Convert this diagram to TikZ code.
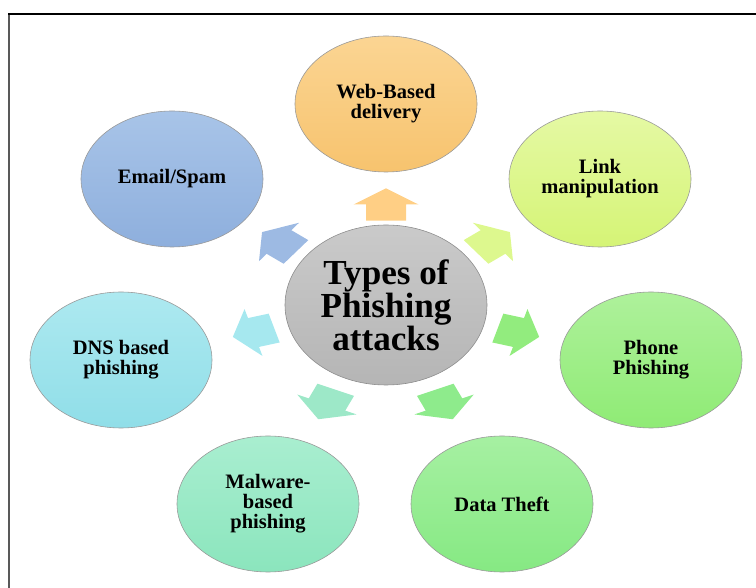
\documentclass[tikz,border=0pt]{standalone}
\usepackage{fontspec}
\setmainfont{Liberation Serif}
\usetikzlibrary{shapes.geometric,calc}

\definecolor{hubtop}{HTML}{CACACA}
\definecolor{hubbot}{HTML}{B5B5B5}
\definecolor{webtop}{HTML}{FBD593}
\definecolor{webbot}{HTML}{F7C36E}
\definecolor{emailtop}{HTML}{A8C4E8}
\definecolor{emailbot}{HTML}{8EAFDD}
\definecolor{linktop}{HTML}{E5F9A4}
\definecolor{linkbot}{HTML}{D5F476}
\definecolor{dnstop}{HTML}{ADE9F0}
\definecolor{dnsbot}{HTML}{90DEE8}
\definecolor{phonetop}{HTML}{AEF19B}
\definecolor{phonebot}{HTML}{8FEB75}
\definecolor{maltop}{HTML}{A9EED0}
\definecolor{malbot}{HTML}{8BE5BD}
\definecolor{datatop}{HTML}{A6F0A2}
\definecolor{databot}{HTML}{86E983}
\definecolor{webarrow}{HTML}{FFCF85}
\definecolor{emailarrow}{HTML}{9DBAE3}
\definecolor{linkarrow}{HTML}{DDF88E}
\definecolor{dnsarrow}{HTML}{A6E8EF}
\definecolor{phonearrow}{HTML}{92EC7E}
\definecolor{malarrow}{HTML}{9DE8C8}
\definecolor{dataarrow}{HTML}{8EEB8C}

\tikzset{
  bubble/.style={ellipse, draw=black!40, line width=0.5pt,
    minimum width=5.46cm, minimum height=4.08cm, align=center,
    font=\bfseries\fontsize{17.5}{17}\selectfont},
  hub/.style={ellipse, draw=black!45, line width=0.5pt,
    minimum width=6.06cm, minimum height=4.8cm, align=center,
    font=\bfseries\fontsize{30}{28}\selectfont}
}

\begin{document}
\begin{tikzpicture}
[x=0.03cm,y=0.03cm]
\useasboundingbox (0,0) rectangle (756,588);

% frame
\draw[line width=1.5pt,black!65] (9,0) -- (9,574);
\draw[line width=1.2pt] (8.3,574) -- (756,574);

\node[hub,top color=hubtop,bottom color=hubbot] (c) at (386,283) {Types of\\Phishing\\attacks};

\node[bubble,top color=webtop,bottom color=webbot] (web) at (386,484) {Web-Based\\delivery};
\node[bubble,top color=linktop,bottom color=linkbot] (link) at (600,409) {Link\\manipulation};
\node[bubble,top color=emailtop,bottom color=emailbot] (email) at (172,409) {Email/Spam};
\node[bubble,top color=phonetop,bottom color=phonebot] (phone) at (651,228) {Phone\\Phishing};
\node[bubble,top color=dnstop,bottom color=dnsbot] (dns) at (121,228) {DNS based\\phishing};
\node[bubble,top color=datatop,bottom color=databot] (data) at (502,84) {Data Theft};
\node[bubble,top color=maltop,bottom color=malbot] (mal) at (268,84) {Malware-\\based\\phishing};

% block arrows, half way from the hub to each bubble
\foreach \dest/\ang/\col in {web/90/webarrow, link/38/linkarrow, email/142/emailarrow,
    phone/-16/phonearrow, dns/196/dnsarrow, data/-66/dataarrow, mal/246/malarrow}
  \fill[\col, shift={($(c)!.5!(\dest)$)}, yscale=.75, rotate=\ang]
    (-21.5,-20) -- (0,-20) -- (0,-32.5) -- (21.5,0) -- (0,32.5) -- (0,20) -- (-21.5,20) -- cycle;
\end{tikzpicture}
\end{document}
